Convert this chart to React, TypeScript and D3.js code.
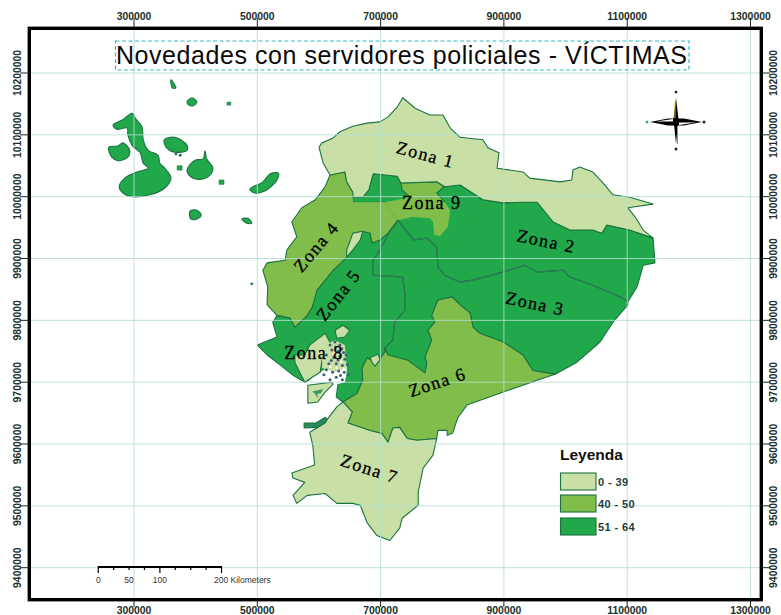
import React from 'react';
import * as d3 from 'd3';

type Pt = [number, number];

// everything below is UTM km
const eastTicks = [300000, 500000, 700000, 900000, 1100000, 1300000];
const northTicks = [10200000, 10100000, 10000000, 9900000, 9800000, 9700000, 9600000, 9500000, 9400000];

const coastNorth: Pt[] = [[600,10080],[605,10087],[623,10095],[634,10105],[655,10114],[678,10119],[699,10121],[712,10129],[727,10145],[736,10160],[756,10143],[780,10132],[801,10132],[813,10111],[829,10096],[866,10092],[874,10079],[892,10071],[889,10046],[931,10040],[942,10030],[991,10024],[1010,10027],[1012,10043],[1023,10048],[1044,10040],[1061,10022],[1077,10003],[1104,9999],[1142,9988],[1101,9982],[1113,9967],[1126,9946],[1142,9933]];
const border12: Pt[] = [[1104,9946],[1067,9954],[1059,9941],[1044,9946],[1007,9946],[980,9959],[954,9991],[931,9991],[899,9990],[866,9995],[829,10019],[804,10016],[791,10024],[733,10022],[727,10033],[688,10037]];
const zona1Tip: Pt[] = [[686,10030],[681,10011],[671,9999],[655,9999]];
const border14: Pt[] = [[655,10007],[645,10024],[642,10040],[618,10035]];
const coast4: Pt[] = [[610,10016],[594,9995],[572,9982],[556,9959],[564,9935],[548,9914],[545,9897],[516,9893],[509,9881],[517,9854],[516,9833],[516,9825],[532,9808]];
const border45: Pt[] = [[553,9804],[561,9789],[581,9808],[589,9821],[597,9849],[623,9881],[645,9902],[671,9944],[683,9941],[686,9925],[699,9930],[712,9941],[728,9962]];
const border49: Pt[] = [[707,9991],[686,9991],[655,9991]];
const zona9Edge: Pt[] = [[707,9991],[748,9999],[735,10011],[733,10022],[791,10024],[803,10016],[791,10006],[804,9991],[813,9978],[809,9951],[796,9936],[787,9938],[785,9959],[780,9965],[751,9967],[728,9962]];
const border23: Pt[] = [[728,9962],[753,9930],[775,9933],[791,9918],[793,9886],[804,9873],[829,9862],[850,9865],[899,9878],[934,9889],[954,9878],[996,9881],[1007,9870],[1051,9854],[1088,9838],[1101,9830]];
const coastEast: Pt[] = [[1116,9854],[1126,9889],[1145,9893]];
const coastSouthEast: Pt[] = [[1101,9825],[1077,9797],[1056,9765],[1018,9732],[983,9713]];
const border36: Pt[] = [[947,9719],[931,9744],[899,9765],[861,9779],[850,9789],[845,9812],[829,9825],[816,9838],[793,9833],[783,9808],[788,9797],[777,9784],[783,9768],[772,9741],[775,9731],[772,9715],[743,9736],[712,9744],[707,9755]];
const border35: Pt[] = [[720,9768],[723,9797],[740,9817],[740,9838],[736,9870],[688,9873],[688,9897],[699,9914],[715,9943]];
const border56: Pt[] = [[707,9749],[694,9731],[678,9739],[670,9723],[671,9703],[662,9682],[639,9668]];
const coast5: Pt[] = [[628,9676],[631,9698],[598,9711],[577,9700],[558,9711],[542,9724],[516,9744],[500,9760],[532,9773],[525,9797]];
const border67: Pt[] = [[654,9652],[647,9634],[683,9622],[702,9617],[712,9603],[720,9626],[731,9627],[743,9609],[759,9606],[791,9609]];
const coast6: Pt[] = [[793,9622],[808,9622],[808,9614],[817,9618],[825,9642],[840,9663],[899,9684],[954,9703]];
const edge7: Pt[] = [[785,9582],[769,9561],[761,9522],[761,9501],[735,9480],[731,9464],[715,9444],[694,9452],[678,9473],[667,9501],[655,9504],[629,9504],[610,9520],[581,9517],[564,9504],[558,9517],[577,9538],[558,9545],[556,9553],[593,9566],[590,9598],[585,9619],[610,9634],[615,9642],[629,9660]];

const zona1: Pt[] = [...coastNorth, ...border12, ...zona1Tip.slice(0, 3), [655,9999], ...border14, [607,10054]];
const zona2: Pt[] = [[1142,9933], ...border12, ...zona1Tip, [655,9991], [707,9991], ...border23, ...coastEast];
const zona3: Pt[] = [...border23, ...coastSouthEast, ...border36, ...border35];
const zona4: Pt[] = [[618,10035], ...coast4, ...border45, ...border49, ...border14];
const zona5: Pt[] = [[532,9808], ...border45, ...[...border35].reverse(), [707,9755], ...border56, ...coast5];
const zona6: Pt[] = [[983,9713], ...border36, ...border56, ...border67, ...coast6];
const zona7: Pt[] = [[639,9668], ...border67, ...edge7];
const zona8Main: Pt[] = [[561,9744],[561,9732],[577,9700],[589,9708],[602,9716],[605,9736],[623,9755],[610,9779],[585,9760],[577,9744]];
const zona8North: Pt[] = [[626,9784],[639,9792],[650,9784],[642,9773],[629,9771]];
const zona8Delta: Pt[] = [[610,9760],[626,9768],[642,9760],[645,9723],[626,9716],[605,9723],[605,9739]];
const zona8Puna: Pt[] = [[582,9695],[620,9700],[623,9697],[610,9684],[598,9668],[582,9666]];
const zona8Piece: Pt[] = [[683,9740],[696,9745],[699,9736],[691,9726],[686,9732]];
const sliver: Pt[] = [[655,9941],[671,9944],[667,9930],[655,9914],[645,9902],[645,9914],[650,9927]];
const estuary: Pt[] = [[589,9708],[602,9716],[612,9722],[630,9726],[645,9726],[645,9716],[642,9700],[631,9697],[610,9698],[582,9700]];
const punaPatch: Pt[] = [[589,9685],[607,9689],[603,9682],[597,9681],[599,9673],[593,9682]];
const jambeliStrip: Pt[] = [[576,9626],[598,9627],[615,9639],[610,9643],[595,9634],[576,9634]];
const estuarySpecks: Pt[] = [[618,9760],[626,9765],[634,9760],[621,9752],[631,9750],[640,9748],[612,9744],[624,9740],[634,9742],[642,9737],[616,9730],[628,9730],[638,9727],[646,9728],[612,9720],[622,9716],[632,9718],[641,9716],[648,9712],[628,9708],[638,9704],[618,9704],[627,9757],[637,9754],[620,9735],[631,9736],[644,9744],[608,9712],[635,9711]];
const estuaryFlecks: Pt[] = [[625,9746],[636,9733],[618,9725],[640,9722],[629,9723]];

const galapagos: Pt[][] = [
  [[266,10116],[281,10124],[297,10135],[302,10127],[313,10113],[315,10092],[323,10075],[339,10067],[342,10054],[350,10046],[360,10030],[350,10014],[326,10003],[298,10000],[282,10006],[276,10016],[285,10030],[305,10040],[323,10046],[315,10054],[310,10071],[297,10083],[290,10100],[289,10111],[272,10109]],
  [[259,10080],[274,10082],[282,10087],[293,10075],[290,10064],[274,10058],[264,10064]],
  [[349,10092],[366,10096],[386,10083],[386,10075],[366,10072],[353,10079]],
  [[386,10043],[399,10059],[412,10061],[415,10074],[418,10061],[428,10046],[420,10032],[404,10028],[391,10033]],
  [[488,10012],[509,10024],[521,10037],[534,10038],[532,10027],[512,10009],[496,10006]],
  [[391,9977],[402,9978],[409,9970],[402,9964],[392,9964]],
  [[475,9964],[485,9965],[491,9957],[483,9957]],
  [[360,10189],[366,10181],[368,10176],[362,10176]],
  [[386,10153],[394,10160],[402,10153],[396,10147],[389,10148]],
];
const galapagosSquares: Pt[][] = [
  [[451,10153],[457,10153],[457,10148],[451,10148]],
  [[438,10027],[446,10027],[446,10020],[438,10020]],
  [[370,10050],[378,10050],[378,10043],[370,10043]],
];
const islets: Pt[] = [[491,9859],[368,10069],[375,10067]];

const zoneLabels = ['Zona 1', 'Zona 9', 'Zona 2', 'Zona 3', 'Zona 4', 'Zona 5', 'Zona 8', 'Zona 6', 'Zona 7'];
const labelAt: Pt[] = [[772,10065],[783,9987],[968,9925],[950,9824],[598,9917],[634,9839],[592,9744],[793,9697],[681,9557]];
const labelTilt = [15, 0, 12, 12, -50, -52, 0, -18, 18];

const legendLabels = ['0 - 39', '40 - 50', '51 - 64'];
const LIGHT = '#c8dfa6';
const MEDIUM = '#80bd4b';
const DARK = '#21a84a';
const legendColors = [LIGHT, MEDIUM, DARK];
const scaleKm = [0, 25, 50, 75, 100, 125, 150, 175, 200];
const scaleLabels = [0, 50, 100];

const x = d3.scaleLinear().domain([300, 1300]).range([134, 750.5]);
const y = d3.scaleLinear().domain([10200, 9400]).range([73, 567.7]);
const outline = d3.line<Pt>().x(d => x(d[0])).y(d => y(d[1]));
const blob = d3.line<Pt>().x(d => x(d[0])).y(d => y(d[1])).curve(d3.curveCatmullRomClosed.alpha(0.5));
const closed = (pts: Pt[]) => outline(pts) + 'Z';

const FRAME = { left: 29.3, top: 28.3, right: 761.3, bottom: 599.7 };
const SANS = '"Liberation Sans", Arial, sans-serif';
const BORDER = '#1b7340';
const GRID = '#b4dfd3';
const SCALE_E0 = 242;

const Zone = ({ pts, fill }: { pts: Pt[]; fill: string }) => (
  <path d={closed(pts)} fill={fill} stroke={BORDER} strokeWidth={1.1} strokeLinejoin="round" />
);

export default function App() {
  const legendTop = [473, 495, 518];
  const cx = 676, cy = 122;
  return (
    <svg width={781} height={615} style={{ position: 'absolute', left: 0, top: 0, background: '#fff' }}>
      {galapagos.map((p, i) => <path key={i} d={blob(p)!} fill={DARK} stroke={BORDER} strokeWidth={1.1} />)}
      {galapagosSquares.map((p, i) => <path key={i} d={closed(p)} fill={DARK} stroke={BORDER} strokeWidth={0.6} />)}
      {islets.map((p, i) => <circle key={i} cx={x(p[0])} cy={y(p[1])} r={1.4} fill="#2c6b55" />)}

      <Zone pts={zona5} fill={DARK} />
      <Zone pts={zona2} fill={DARK} />
      <Zone pts={zona3} fill={DARK} />
      <path d={outline([...border35, [728, 9962]])!} fill="none" stroke="#2b7d56" strokeWidth={1.2} />
      <path d={outline(border23)!} fill="none" stroke="#2b7d56" strokeWidth={1.2} />
      <path d={closed(estuary)} fill="#fff" />
      <Zone pts={jambeliStrip} fill="#2d8a5a" />
      <path d={closed(zona4)} fill={MEDIUM} />
      <path d={closed(zona9Edge)} fill={MEDIUM} />
      <path d={outline(zona9Edge.slice(1, 8))!} fill="none" stroke={BORDER} strokeWidth={1.1} />
      <path d={outline([...border14, ...coast4, ...border45])!} fill="none" stroke={BORDER} strokeWidth={1.1} />
      <Zone pts={zona6} fill={MEDIUM} />
      <Zone pts={zona7} fill={LIGHT} />
      <Zone pts={zona1} fill={LIGHT} />
      <Zone pts={sliver} fill={LIGHT} />
      <Zone pts={zona8Main} fill={LIGHT} />
      <Zone pts={zona8North} fill={LIGHT} />
      <path d={closed(zona8Delta)} fill={LIGHT} />
      <Zone pts={zona8Puna} fill={LIGHT} />
      <Zone pts={zona8Piece} fill={LIGHT} />
      <path d={closed(punaPatch)} fill="#3f9560" />
      {estuarySpecks.map((p, i) => <circle key={i} cx={x(p[0])} cy={y(p[1])} r={1.5} fill="#3c5f78" />)}
      {estuaryFlecks.map((p, i) => <circle key={i} cx={x(p[0])} cy={y(p[1])} r={1.2} fill="#fff" />)}

      {eastTicks.map(t => (
        <line key={t} x1={x(t / 1000)} x2={x(t / 1000)} y1={FRAME.top} y2={FRAME.bottom} stroke={GRID} strokeWidth={1} opacity={0.85} />
      ))}
      {northTicks.map(t => (
        <line key={t} x1={FRAME.left} x2={FRAME.right} y1={y(t / 1000)} y2={y(t / 1000)} stroke={GRID} strokeWidth={1} opacity={0.85} />
      ))}

      <rect x={FRAME.left} y={FRAME.top} width={FRAME.right - FRAME.left} height={FRAME.bottom - FRAME.top} fill="none" stroke="#000" strokeWidth={3.4} />

      {eastTicks.map(t => (
        <g key={t} fontFamily={SANS} fontSize={10.4} fontWeight="bold" fill="#20302a" textAnchor="middle">
          <line x1={x(t / 1000)} x2={x(t / 1000)} y1={18} y2={FRAME.top} stroke="#222" />
          <line x1={x(t / 1000)} x2={x(t / 1000)} y1={FRAME.bottom} y2={607} stroke="#222" />
          <text x={x(t / 1000)} y={20}>{t}</text>
          <text x={x(t / 1000)} y={614}>{t}</text>
        </g>
      ))}
      {northTicks.map(t => (
        <g key={t} fontFamily={SANS} fontSize={10.4} fontWeight="bold" fill="#20302a" textAnchor="middle">
          <line x1={20} x2={FRAME.left} y1={y(t / 1000)} y2={y(t / 1000)} stroke="#222" />
          <line x1={FRAME.right} x2={770} y1={y(t / 1000)} y2={y(t / 1000)} stroke="#222" />
          <text transform={`translate(21,${y(t / 1000)}) rotate(-90)`}>{t}</text>
          <text transform={`translate(777,${y(t / 1000)}) rotate(-90)`}>{t}</text>
        </g>
      ))}

      <rect x={115.5} y={41} width={573.5} height={29} fill="none" stroke="#37bcc0" strokeWidth={1.2} strokeDasharray="4 2.5" />
      <text x={116} y={64} fontFamily={SANS} fontSize={25} textLength={571} lengthAdjust="spacing" fill="#0a0a0a">
        Novedades con servidores policiales - VÍCTIMAS
      </text>

      {zoneLabels.map((label, i) => (
        <text key={label} transform={`translate(${x(labelAt[i][0])},${y(labelAt[i][1])}) rotate(${labelTilt[i]})`}
          fontFamily='"Liberation Serif", serif' fontSize={18} letterSpacing={1.5} textAnchor="middle" dominantBaseline="middle"
          fill="#000" stroke="#000" strokeWidth={0.3}>{label}</text>
      ))}

      <text x={560} y={460} fontFamily={SANS} fontSize={15.5} fontWeight="bold" fill="#111">Leyenda</text>
      {legendLabels.map((label, i) => (
        <g key={label}>
          <rect x={560.5} y={legendTop[i]} width={35.5} height={17} fill={legendColors[i]} stroke={BORDER} strokeWidth={1.1} />
          <text x={598} y={legendTop[i] + 12.5} fontFamily={SANS} fontSize={11} fontWeight="bold" letterSpacing={0.4} fill="#1c3d3a">{label}</text>
        </g>
      ))}

      <path d={`M${x(SCALE_E0)},567H${x(SCALE_E0 + 200)}`} stroke="#000" strokeWidth={2} />
      {scaleKm.map(km => (
        <line key={km} x1={x(SCALE_E0 + km)} x2={x(SCALE_E0 + km)} y1={566} y2={km % 100 === 0 ? 573 : 570} stroke="#000" strokeWidth={1.2} />
      ))}
      {scaleLabels.map(km => (
        <text key={km} x={x(SCALE_E0 + km)} y={583} textAnchor="middle" fontFamily={SANS} fontSize={8.5} fill="#333">{km}</text>
      ))}
      <text x={214} y={583} fontFamily={SANS} fontSize={8.5} fill="#333">200 Kilometers</text>

      <g>
        <path d={`M${cx},${cy - 24}L${cx + 2.5},${cy - 3}L${cx},${cy + 22}L${cx - 2.5},${cy - 3}Z`} fill="#000" />
        <path d={`M${cx - 26},${cy}L${cx - 8},${cy - 3.5}L${cx + 8},${cy - 3.5}L${cx + 26},${cy}L${cx + 8},${cy + 3.5}L${cx - 8},${cy + 3.5}Z`} fill="#000" />
        <path d={`M${cx + 3},${cy + 0.5}L${cx + 20},${cy + 0.5}L${cx + 3},${cy + 3}Z`} fill="#fff" />
        <path d={`M${cx - 3},${cy - 0.5}L${cx - 20},${cy - 0.5}L${cx - 3},${cy - 3}Z`} fill="#fff" />
        <line x1={cx + 1.5} x2={cx + 1.5} y1={cy + 4} y2={cy + 22} stroke="#2fb5d8" />
        <line x1={cx - 1} x2={cx - 1} y1={cy - 20} y2={cy - 4} stroke="#e8b420" />
        <circle cx={cx} cy={cy - 30} r={1.5} fill="#333" />
        <circle cx={cx} cy={cy + 27} r={1.5} fill="#222" />
        <circle cx={cx + 28} cy={cy} r={1.5} fill="#223" />
        <circle cx={cx - 29} cy={cy} r={1.5} fill="#3aa7a0" />
      </g>
    </svg>
  );
}
